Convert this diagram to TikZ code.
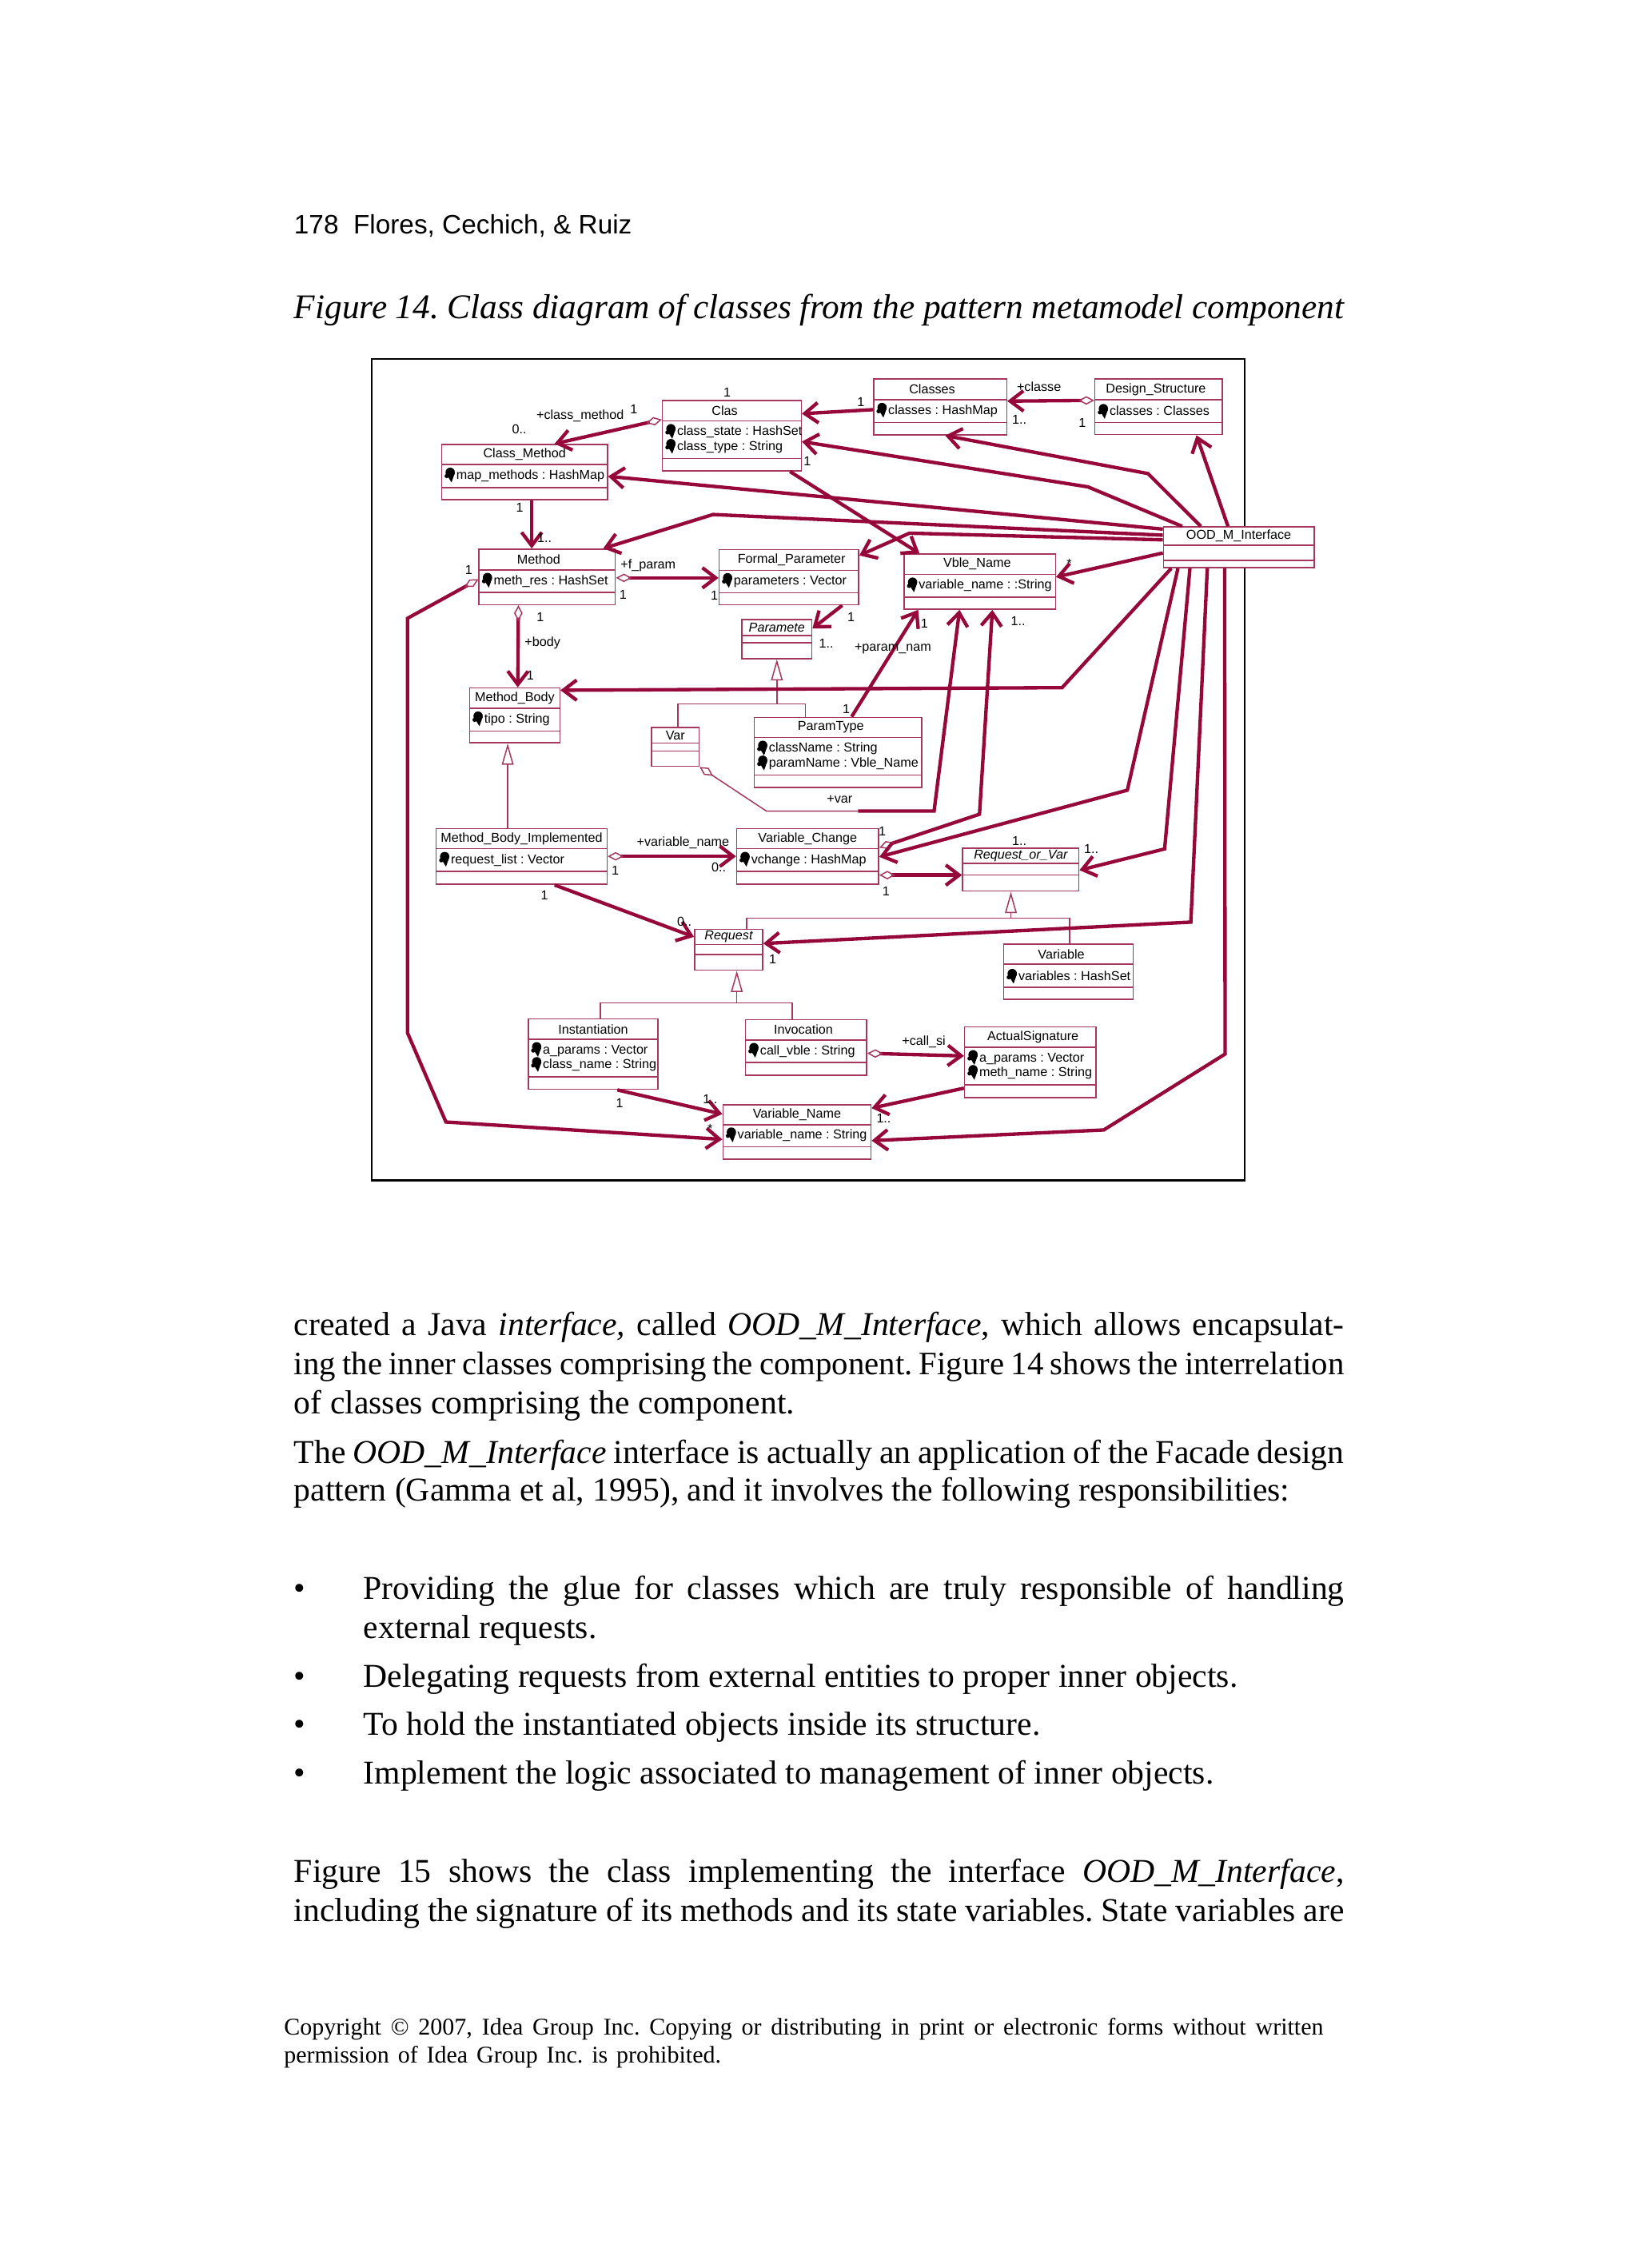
\documentclass[tikz,border=0pt]{standalone}
\usepackage{fontspec}
\setmainfont{Liberation Serif}
\newfontfamily\umlfont{Liberation Sans}
\newfontfamily\headfont{Liberation Sans}
\usetikzlibrary{arrows.meta, fit, calc}
\frenchspacing

\definecolor{umlred}{RGB}{150,8,58}
\definecolor{umlbox}{RGB}{165,55,95}

% black attribute marker of the class boxes
\newcommand{\attricon}{\raisebox{0pt}[0pt][0pt]{\tikz[x=1pt,y=1pt,baseline=0pt]{\fill[black] (2.0,2.6) circle (1.75);
  \fill[black] (0.4,2.2) -- (3.7,2.2) -- (2.5,-1.2) -- cycle;
  \fill[black] (0.7,1.2) circle (0.8);}}\hspace{0.6pt}}

% one justified line of running text
\newcommand{\jline}[2]{\makebox[#1][s]{\spaceskip=0.12em plus 1em\relax #2}}

% name, x1, y1, x2, y2, first divider, second divider, title, attributes
\newcommand{\umlclass}[9]{%
  \node[clsbox, fit={(#2,#3) (#4,#5)}] (#1) {};
  \draw[clsline] (#2,#6) -- (#4,#6) (#2,#7) -- (#4,#7);
  \node[clstitle] (#1-t) at ({(#2+#4)/2},{(#3+#6)/2}) {#8};
  \node[clsattr] (#1-a) at ({#2+1.6},{(#6+#7)/2}) {#9};
}

\begin{document}
\begin{tikzpicture}[x=0.5427pt, y=-0.5427pt,
    umltext/.style={font=\umlfont\fontsize{4.85}{5.6}\selectfont, inner sep=0pt},
    clsbox/.style={draw=umlbox, line width=0.45pt, fill=white, inner sep=0pt},
    clsline/.style={draw=umlbox, line width=0.45pt},
    clstitle/.style={umltext},
    clsattr/.style={umltext, anchor=west, align=left},
    lbl/.style={umltext},
    assoc/.style={draw=umlred, line width=1.3pt, -{Straight Barb[length=5pt,width=7.6pt]}},
    aggr/.style={assoc, {Diamond[open,length=6pt,width=3.2pt,line width=0.45pt,color=umlbox]}-{Straight Barb[length=5pt,width=7.6pt]}},
    thinaggr/.style={draw=umlbox, line width=0.45pt, {Diamond[open,length=6pt,width=3.2pt]}-},
    genl/.style={draw=umlbox, line width=0.45pt},
    gen/.style={genl, -{Triangle[open,length=8pt,width=4.4pt]}},
    bodytxt/.style={font=\fontsize{12.5}{14}\selectfont, anchor=base west, inner sep=0pt},
    smalltxt/.style={font=\fontsize{9}{10}\selectfont, anchor=base west, inner sep=0pt}]
  \useasboundingbox (0,0) rectangle (1132,1568);

  % --- page head and caption ---
  \node[anchor=base west, inner sep=0pt, font=\headfont\fontsize{10}{12}\selectfont] (head) at (203,161.5) {178\ \ Flores, Cechich, \& Ruiz};
  \node[anchor=base west, inner sep=0pt, font=\fontsize{13}{15}\selectfont\itshape] (caption) at (203,220.5)
    {\makebox[394pt][s]{Figure 14. Class diagram of classes from the pattern metamodel component}};

  % --- figure frame ---
  \draw[black, line width=0.7pt] (257,248.2) rectangle (860.5,816);

  % --- classes ---
  \umlclass{clas}{458}{277}{554}{325.6}{291}{317}{Clas\kern5.4pt}{\attricon class\_state : HashSet\\\attricon class\_type : String}
  \umlclass{classes}{604}{262}{696}{300.7}{276.4}{292}{Classes\kern6pt}{\attricon classes : HashMap}
  \umlclass{dstruct}{757}{262}{845}{300.5}{276.2}{292}{Design\_Structure\kern2pt}{\attricon classes : Classes}
  \umlclass{cmethod}{305.4}{307.2}{420}{345.5}{321}{337}{Class\_Method}{\attricon map\_methods : HashMap}
  \umlclass{ood}{804.4}{364.3}{908.5}{392.5}{376.8}{387.5}{OOD\_M\_Interface}{}
  \umlclass{method}{331.2}{379.6}{425.4}{418}{394}{409.4}{Method\kern6.4pt}{\attricon meth\_res : HashSet}
  \umlclass{fparam}{497.2}{380}{593.7}{418.1}{394.3}{409.8}{\kern2pt Formal\_Parameter}{\attricon parameters : Vector}
  \umlclass{vname}{625.1}{383}{729.7}{421.2}{397.1}{412.8}{Vble\_Name\kern2pt}{\attricon variable\_name : :String}
  \umlclass{paramete}{512.9}{428.2}{561.3}{455.3}{439.3}{444.4}{\itshape Paramete}{}
  \umlclass{ptype}{521.5}{495.9}{637.2}{544.3}{509.9}{535.9}{ParamType\kern5.4pt}{\attricon className : String\\\attricon paramName : Vble\_Name}
  \umlclass{var}{450.5}{503}{483.3}{529.8}{513.7}{519.3}{Var}{}
  \umlclass{mbody}{324.7}{475.6}{387.1}{513.5}{489.8}{505.3}{Method\_Body}{\attricon tipo : String}
  \umlclass{mbimpl}{301.6}{572.8}{419.7}{611.4}{586.8}{602.5}{Method\_Body\_Implemented}{\attricon request\_list : Vector}
  \umlclass{vchange}{509.3}{572.8}{607.5}{611.2}{586.7}{602.5}{Variable\_Change}{\attricon vchange : HashMap}
  \umlclass{rorv}{665.5}{586.3}{745.9}{616.1}{597}{604.9}{\itshape Request\_or\_Var}{}
  \umlclass{request}{480.2}{642.5}{527.3}{670.7}{653}{659.8}{\itshape Request}{}
  \umlclass{variable}{694}{652.6}{783.4}{690.9}{666.6}{682.7}{Variable\kern5.4pt}{\attricon variables : HashSet}
  \umlclass{inst}{365.2}{704.4}{455}{753.1}{718.6}{744.4}{Instantiation}{\attricon a\_params : Vector\\\attricon class\_name : String}
  \umlclass{invoc}{515.4}{704.9}{599.2}{743.3}{719}{734.4}{Invocation\kern2pt}{\attricon call\_vble : String}
  \umlclass{asig}{666.9}{709.9}{757.7}{758.8}{724.1}{749.9}{\kern2pt ActualSignature}{\attricon a\_params : Vector\\\attricon meth\_name : String}
  \umlclass{varname}{499.8}{763.7}{602.2}{801.5}{777.6}{792.7}{Variable\_Name}{\attricon variable\_name : String}

  % --- generalisations ---
  \draw[gen] (paramete.south |- 0,486.5) -- (paramete.south);
  \draw[genl] (var.north -| 468.6,0) |- (556.7,486.5) -- (ptype.north -| 556.7,0);
  \draw[gen] (mbimpl.north -| 351,0) -- (mbody.south -| 351,0);
  \draw[gen] (698.9,634.8) -- (rorv.south -| 698.9,0);
  \draw[genl] (request.north -| 516.1,0) |- (739.4,634.8) -- (variable.north -| 739.4,0);
  \draw[gen] (509.4,693.4) -- (request.south -| 509.4,0);
  \draw[genl] (inst.north -| 415,0) |- (547.6,693.4) -- (invoc.north -| 547.6,0);

  % --- associations and aggregations ---
  \draw[aggr] (clas.west |- 0,290) -- (cmethod.north -| 383.4,0);
  \draw[assoc] (classes.west |- 0,283.2) -- (clas.east |- 0,286);
  \draw[aggr] (dstruct.west |- 0,276.8) -- (classes.east |- 0,277.3);
  \draw[assoc] (ood.north -| 830.2,0) -- (793.7,327.4) -- (classes.south -| 653.5,0);
  \draw[assoc] (ood.north -| 849,0) -- (dstruct.south -| 827.2,0);
  \draw[assoc] (ood.north -| 817.4,0) -- (752.2,336.6) -- (clas.east |- 0,305.3);
  \draw[assoc] (ood.west |- 0,365.8) -- (cmethod.east |- 0,329.3);
  \draw[assoc] (ood.west |- 0,370) -- (493,355.7) -- (method.north -| 417,0);
  \draw[assoc] (ood.west |- 0,373.2) -- (628.8,368.6) -- (fparam.east |- 0,384);
  \draw[assoc] (clas.south -| 546.2,0) -- (vname.north -| 635.7,0);
  \draw[assoc] (ood.west |- 0,382.3) -- (vname.east |- 0,398.9);
  \draw[assoc] (cmethod.south -| 367.6,0) -- (method.north -| 367.6,0);
  \draw[aggr] (method.east |- 0,399.5) -- (fparam.west |- 0,399.5);
  \draw[aggr] (method.south -| 358.4,0) -- (mbody.north -| 358,0);
  \draw[assoc] (fparam.south -| 582.3,0) -- (paramete.east |- 0,434.5);
  \coordinate (varjoin) at (593.3,560.7);
  \draw[thinaggr] (var.south east) -- (529.8,560.7) -- (varjoin);
  \draw[assoc] (varjoin) -- (645.8,560.7) -- (vname.south -| 663.4,0);
  \draw[aggr] (vchange.east |- 0,586) -- (677.2,562.9) -- (vname.south -| 686.1,0);
  \draw[assoc] (ptype.north -| 588.8,0) -- (vname.south -| 634.8,0);
  \draw[assoc] (ood.south -| 809.8,0) -- (734.3,475.4) -- (mbody.east |- 0,477.2);
  \draw[assoc] (ood.south -| 814.4,0) -- (779.4,546.3) -- (vchange.east |- 0,592.4);
  \draw[assoc] (ood.south -| 822.7,0) -- (805.2,586.9) -- (rorv.east |- 0,601.6);
  \draw[assoc] (ood.south -| 834.7,0) -- (823.3,637.5) -- (request.east |- 0,652.3);
  \draw[assoc] (ood.south -| 846.7,0) -- (847,728.7) -- (763.1,781.2) -- (varname.east |- 0,788.6);
  \draw[aggr] (method.west |- 0,400.5) -- (281.7,427.5) -- (281.7,714) -- (308.3,775.7) -- (varname.west |- 0,787.7);
  \draw[aggr] (mbimpl.east |- 0,592) -- (vchange.west |- 0,592);
  \draw[assoc] (mbimpl.south -| 383.4,0) -- (request.west |- 0,647.7);
  \draw[aggr] (vchange.east |- 0,605) -- (rorv.west |- 0,605);
  \draw[aggr] (invoc.east |- 0,728.2) -- (asig.west |- 0,730);
  \draw[assoc] (asig.west |- 0,752.3) -- (varname.east |- 0,766.1);
  \draw[assoc] (inst.south -| 426.8,0) -- (varname.west |- 0,770.2);

  % --- role names and multiplicities ---
  \node[lbl] (l1) at (401.1,287.4) {+class\_method};
  \node[lbl] (l2) at (438.2,283.2) {1};
  \node[lbl] (l3) at (359.1,297) {0..};
  \node[lbl] (l4) at (502.8,271.3) {1};
  \node[lbl] (l5) at (595.2,277.7) {1};
  \node[lbl] (l6) at (718.3,267.5) {+classe};
  \node[lbl] (l7) at (704.8,290.2) {1..};
  \node[lbl] (l8) at (748.3,292.4) {1};
  \node[lbl] (l9) at (558.1,318.7) {1};
  \node[lbl] (l10) at (359.3,351.1) {1};
  \node[lbl] (l11) at (376.4,372.1) {1..};
  \node[lbl] (l12) at (448.1,391) {+f\_param};
  \node[lbl] (l13) at (430.7,411.3) {1};
  \node[lbl] (l14) at (493.9,411.8) {1};
  \node[lbl] (l15) at (324.1,394.3) {1};
  \node[lbl] (l16) at (373.5,426.6) {1};
  \node[lbl] (l17) at (375.1,444.4) {+body};
  \node[lbl] (l18) at (366.6,467.1) {1};
  \node[lbl] (l19) at (588.4,426.6) {1};
  \node[lbl] (l20) at (571.3,445) {1..};
  \node[lbl] (l21) at (739.2,389.7) {*};
  \node[lbl] (l22) at (639.1,431.2) {1};
  \node[lbl] (l23) at (703.9,429.3) {1..};
  \node[lbl] (l24) at (617.3,448.7) {+param\_nam};
  \node[lbl] (l25) at (585.1,490.1) {1};
  \node[lbl] (l26) at (580.5,552.8) {+var};
  \node[lbl] (l27) at (472.2,582.6) {+variable\_name};
  \node[lbl] (l28) at (425.4,602.1) {1};
  \node[lbl] (l29) at (496.9,599.7) {0..};
  \node[lbl] (l30) at (609.9,574.9) {1};
  \node[lbl] (l31) at (612.6,616.3) {1};
  \node[lbl] (l32) at (704.8,581.3) {1..};
  \node[lbl] (l33) at (754.5,586.9) {1..};
  \node[lbl] (l34) at (376.4,619.1) {1};
  \node[lbl] (l35) at (473.2,637.1) {0..};
  \node[lbl] (l36) at (534.3,663.3) {1};
  \node[lbl] (l37) at (638.7,720.1) {+call\_si};
  \node[lbl] (l38) at (611,773) {1..};
  \node[lbl] (l39) at (428.4,762.8) {1};
  \node[lbl] (l40) at (491,760.1) {1..};
  \node[lbl] (l41) at (491,780.3) {*};

  % --- running text ---
  \node[bodytxt] (p1a) at (203,923.5) {\jline{394pt}{created a Java \textit{interface,} called \textit{OOD\_M\_Interface}, which allows encapsulat-}};
  \node[bodytxt, font=\fontsize{12.25}{14}\selectfont] (p1b) at (203,950.5) {\jline{394pt}{ing the inner classes comprising the component. Figure 14 shows the interrelation}};
  \node[bodytxt] (p1c) at (203,977.5) {of classes comprising the component.};
  \node[bodytxt] (p2a) at (203,1011.5) {\jline{394pt}{The \textit{OOD\_M\_Interface} interface is actually an application of the Facade design}};
  \node[bodytxt] (p2b) at (203,1037.5) {pattern (Gamma et al, 1995), and it involves the following responsibilities:};
  \node[bodytxt] (b1) at (203,1105.5) {•};
  \node[bodytxt] (b1a) at (251,1105.5) {\jline{368pt}{Providing the glue for classes which are truly responsible of handling}};
  \node[bodytxt] (b1b) at (251,1132.5) {external requests.};
  \node[bodytxt] (b2) at (203,1166.5) {•};
  \node[bodytxt] (b2a) at (251,1166.5) {Delegating requests from external entities to proper inner objects.};
  \node[bodytxt] (b3) at (203,1199.5) {•};
  \node[bodytxt] (b3a) at (251,1199.5) {To hold the instantiated objects inside its structure.};
  \node[bodytxt] (b4) at (203,1233.5) {•};
  \node[bodytxt] (b4a) at (251,1233.5) {Implement the logic associated to management of inner objects.};
  \node[bodytxt] (p3a) at (203,1301.5) {\jline{394pt}{Figure 15 shows the class implementing the interface \textit{OOD\_M\_Interface},}};
  \node[bodytxt] (p3b) at (203,1328.5) {\jline{394pt}{including the signature of its methods and its state variables. State variables are}};
  \node[smalltxt] (copy1) at (196,1407) {\makebox[390pt][s]{Copyright \textcopyright{} 2007, Idea Group Inc. Copying or distributing in print or electronic forms without written}};
  \node[smalltxt] (copy2) at (196,1426) {\makebox[164pt][s]{permission of Idea Group Inc. is prohibited.}};
\end{tikzpicture}
\end{document}
